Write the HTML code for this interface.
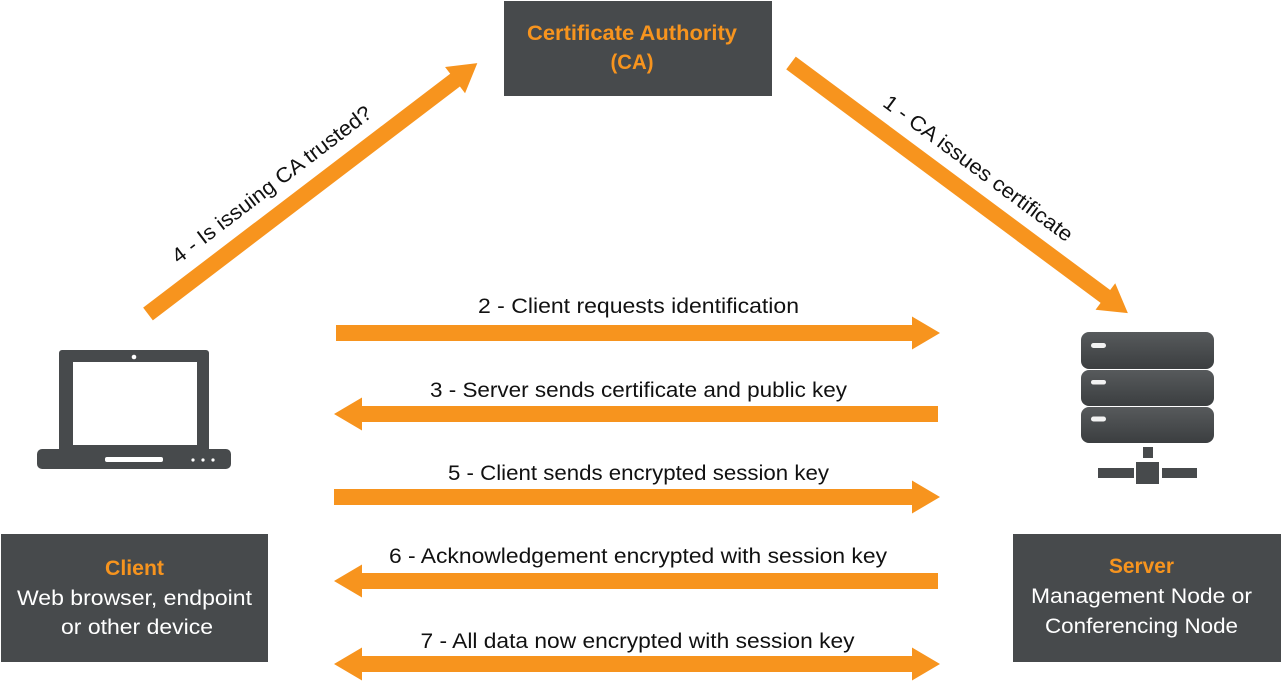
<!DOCTYPE html>
<html>
<head>
<meta charset="utf-8">
<style>
  html, body { margin:0; padding:0; background:#ffffff; }
  body { width:1282px; height:681px; overflow:hidden; }
  svg { display:block; }
  text { font-family: "Liberation Sans", "DejaVu Sans", sans-serif; }
</style>
</head>
<body>
<svg width="1282" height="681" viewBox="0 0 1282 681" xmlns="http://www.w3.org/2000/svg">
  <defs>
    <linearGradient id="srv" x1="0" y1="0" x2="0" y2="1">
      <stop offset="0" stop-color="#575a5c"/>
      <stop offset="1" stop-color="#3b3e40"/>
    </linearGradient>
  </defs>

  <!-- CA box -->
  <rect x="504" y="1" width="268" height="95" fill="#474a4c"/>
  <text x="632" y="40" font-size="21" font-weight="bold" fill="#f7941e" text-anchor="middle" textLength="210" lengthAdjust="spacingAndGlyphs">Certificate Authority</text>
  <text x="632" y="69" font-size="21" font-weight="bold" fill="#f7941e" text-anchor="middle" textLength="43" lengthAdjust="spacingAndGlyphs">(CA)</text>

  <!-- Client box -->
  <rect x="1" y="534" width="267" height="128" fill="#474a4c"/>
  <text x="134.5" y="575" font-size="21" font-weight="bold" fill="#f7941e" text-anchor="middle" textLength="59" lengthAdjust="spacingAndGlyphs">Client</text>
  <text x="134.5" y="605" font-size="21" fill="#ffffff" text-anchor="middle" textLength="235" lengthAdjust="spacingAndGlyphs">Web browser, endpoint</text>
  <text x="137" y="634" font-size="21" fill="#ffffff" text-anchor="middle" textLength="152" lengthAdjust="spacingAndGlyphs">or other device</text>

  <!-- Server box -->
  <rect x="1013" y="534" width="268" height="128" fill="#474a4c"/>
  <text x="1141.5" y="573" font-size="21" font-weight="bold" fill="#f7941e" text-anchor="middle" textLength="65" lengthAdjust="spacingAndGlyphs">Server</text>
  <text x="1141.5" y="603" font-size="21" fill="#ffffff" text-anchor="middle" textLength="221" lengthAdjust="spacingAndGlyphs">Management Node or</text>
  <text x="1141.5" y="633" font-size="21" fill="#ffffff" text-anchor="middle" textLength="193" lengthAdjust="spacingAndGlyphs">Conferencing Node</text>

  <!-- Laptop icon -->
  <rect x="59" y="350" width="150" height="102" rx="3" fill="#474a4c"/>
  <rect x="73" y="362" width="124" height="83" fill="#ffffff"/>
  <circle cx="134" cy="357" r="2.3" fill="#ffffff"/>
  <rect x="37" y="449" width="194" height="20" rx="5" fill="#474a4c"/>
  <rect x="105" y="457" width="58" height="5" rx="2" fill="#ffffff"/>
  <circle cx="193" cy="460" r="1.6" fill="#ffffff"/>
  <circle cx="203" cy="460" r="1.6" fill="#ffffff"/>
  <circle cx="213" cy="460" r="1.6" fill="#ffffff"/>

  <!-- Server icon -->
  <rect x="1081" y="332" width="133" height="37" rx="8" fill="url(#srv)"/>
  <rect x="1081" y="370" width="133" height="36" rx="8" fill="url(#srv)"/>
  <rect x="1081" y="407" width="133" height="36" rx="8" fill="url(#srv)"/>
  <rect x="1091" y="343" width="15" height="5" rx="2.5" fill="#f2f2f2"/>
  <rect x="1091" y="380" width="15" height="4.5" rx="2.2" fill="#f2f2f2"/>
  <rect x="1091" y="416.5" width="15" height="5" rx="2.5" fill="#f2f2f2"/>
  <rect x="1143" y="447" width="10" height="11" fill="#474a4c"/>
  <rect x="1136" y="462" width="23" height="22" fill="#474a4c"/>
  <rect x="1098" y="468" width="36" height="10" fill="#474a4c"/>
  <rect x="1162" y="468" width="35" height="10" fill="#474a4c"/>

  <!-- Horizontal arrows -->
  <g fill="#f7941e">
    <!-- 2 right -->
    <polygon points="336,325 912,325 912,316.5 940,333 912,349.5 912,341 336,341"/>
    <!-- 3 left -->
    <polygon points="938,406 362,406 362,397.5 334,414 362,430.5 362,422 938,422"/>
    <!-- 5 right -->
    <polygon points="334,489 912,489 912,480.5 940,497 912,513.5 912,505 334,505"/>
    <!-- 6 left -->
    <polygon points="938,573 362,573 362,564.5 334,581 362,597.5 362,589 938,589"/>
    <!-- 7 double -->
    <polygon points="362,656 912,656 912,647.5 940,664 912,680.5 912,672 362,672 362,680.5 334,664 362,647.5"/>
  </g>

  <!-- Diagonal arrow 4 -->
  <g transform="translate(148,314) rotate(-37.3)" fill="#f7941e">
    <polygon points="0,-8 386,-8 386,-16.5 414,0 386,16.5 386,8 0,8"/>
  </g>
  <!-- Diagonal arrow 1 -->
  <g transform="translate(791,63) rotate(36.6)" fill="#f7941e">
    <polygon points="0,-8 391.6,-8 391.6,-16.5 419.6,0 391.6,16.5 391.6,8 0,8"/>
  </g>

  <!-- Horizontal labels -->
  <g font-size="21" fill="#111111" text-anchor="middle">
    <text x="638.5" y="313" textLength="321" lengthAdjust="spacingAndGlyphs">2 - Client requests identification</text>
    <text x="638.5" y="397" textLength="417" lengthAdjust="spacingAndGlyphs">3 - Server sends certificate and public key</text>
    <text x="638.5" y="480" textLength="381" lengthAdjust="spacingAndGlyphs">5 - Client sends encrypted session key</text>
    <text x="638" y="563" textLength="498" lengthAdjust="spacingAndGlyphs">6 - Acknowledgement encrypted with session key</text>
    <text x="637.5" y="648" textLength="434" lengthAdjust="spacingAndGlyphs">7 - All data now encrypted with session key</text>
  </g>

  <!-- Diagonal labels -->
  <g font-size="21" fill="#111111" text-anchor="middle">
    <text transform="translate(276,190) rotate(-37.3)" x="0" y="0" textLength="245" lengthAdjust="spacingAndGlyphs">4 - Is issuing CA trusted?</text>
    <text transform="translate(974,174) rotate(36.6)" x="0" y="0" textLength="230" lengthAdjust="spacingAndGlyphs">1 - CA issues certificate</text>
  </g>
</svg>
</body>
</html>
